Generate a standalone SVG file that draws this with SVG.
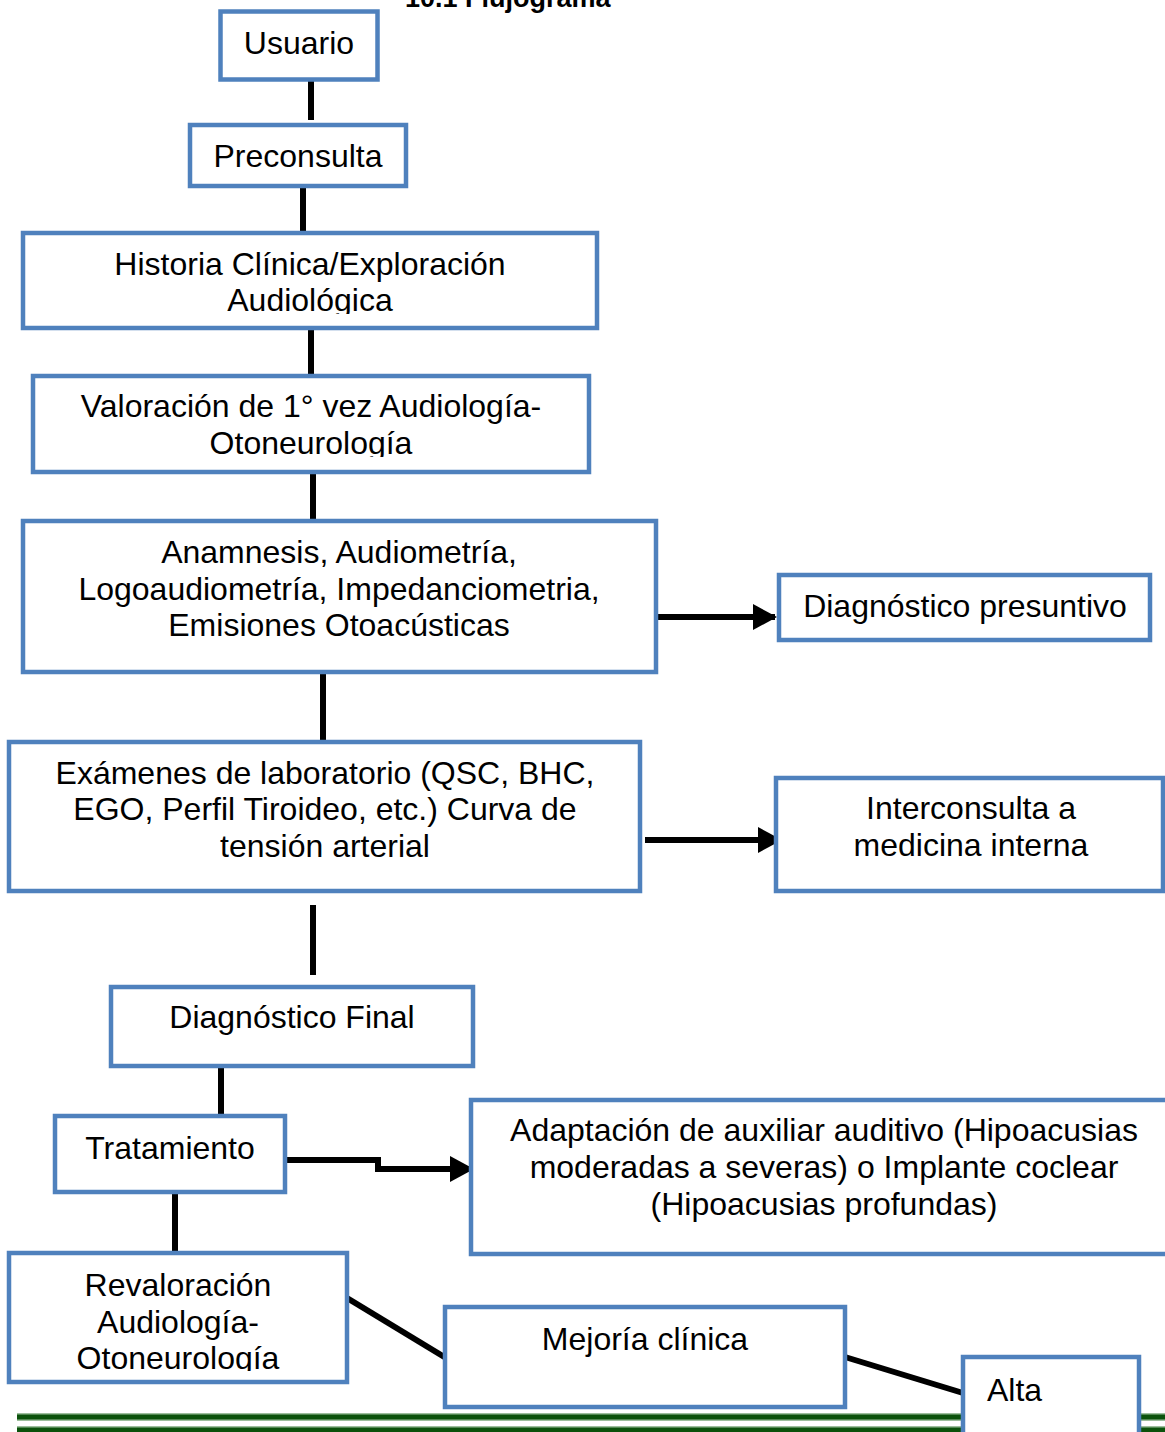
<svg xmlns="http://www.w3.org/2000/svg" width="1165" height="1432" viewBox="0 0 1165 1432">
<style>
.box{fill:#fff;stroke:#4F81BD;stroke-width:4.5}
.t{font-family:"Liberation Sans",Arial,sans-serif;font-size:32px;fill:#000;text-anchor:middle}
.c{stroke:#000;stroke-width:6;fill:none}
.title{font-family:"Liberation Sans",Arial,sans-serif;font-size:27px;font-weight:bold;fill:#000}
</style>
<defs>
<marker id="ah" markerUnits="userSpaceOnUse" markerWidth="24" markerHeight="26" refX="22" refY="13" orient="auto">
<polygon points="0,0 24,13 0,26" fill="#000"/>
</marker>
<clipPath id="clipH"><rect x="25" y="235" width="570" height="79"/></clipPath>
<clipPath id="clipV"><rect x="35" y="378" width="552" height="79"/></clipPath>
<clipPath id="clipR"><rect x="11" y="1255" width="334" height="116"/></clipPath>
</defs>
<rect width="1165" height="1432" fill="#fff"/>
<text class="title" x="405" y="7">10.1 Flujograma</text>

<g id="connectors">
<line class="c" x1="311" y1="76" x2="311" y2="120"/>
<line class="c" x1="303" y1="186" x2="303" y2="233"/>
<line class="c" x1="311" y1="328" x2="311" y2="376"/>
<line class="c" x1="313" y1="472" x2="313" y2="521"/>
<line class="c" x1="658" y1="617" x2="775" y2="617" marker-end="url(#ah)"/>
<line class="c" x1="323" y1="668" x2="323" y2="741"/>
<line class="c" x1="645" y1="840" x2="780" y2="840" marker-end="url(#ah)"/>
<line class="c" x1="313" y1="905" x2="313" y2="975"/>
<line class="c" x1="221" y1="1066" x2="221" y2="1116"/>
<polyline class="c" points="285,1160 378,1160 378,1169 472,1169" marker-end="url(#ah)"/>
<line class="c" x1="175" y1="1192" x2="175" y2="1253"/>
<line class="c" x1="347" y1="1298" x2="446" y2="1358"/>
<line class="c" x1="845" y1="1357" x2="963" y2="1393"/>
</g>

<g id="usuario"><rect class="box" x="220.5" y="11.5" width="157" height="68"/><text class="t" x="299" y="54">Usuario</text></g>
<g id="preconsulta"><rect class="box" x="190" y="125" width="216" height="61"/><text class="t" x="298" y="167">Preconsulta</text></g>
<g id="historia"><rect class="box" x="23" y="233" width="574" height="95"/>
<g clip-path="url(#clipH)"><text class="t" x="310" y="275">Historia Clínica/Exploración</text><text class="t" x="310" y="311">Audiológica</text></g></g>
<g id="valoracion"><rect class="box" x="33" y="376" width="556" height="96"/>
<g clip-path="url(#clipV)"><text class="t" x="311" y="417">Valoración de 1° vez Audiología-</text><text class="t" x="311" y="454">Otoneurología</text></g></g>
<g id="anamnesis"><rect class="box" x="23" y="521" width="633" height="151"/>
<text class="t" x="339" y="563">Anamnesis, Audiometría,</text><text class="t" x="339" y="600">Logoaudiometría, Impedanciometria,</text><text class="t" x="339" y="636">Emisiones Otoacústicas</text></g>
<g id="diag-presuntivo"><rect class="box" x="779" y="575" width="371" height="65"/><text class="t" x="965" y="617">Diagnóstico presuntivo</text></g>
<g id="examenes"><rect class="box" x="9" y="742" width="631" height="149"/>
<text class="t" x="325" y="784">Exámenes de laboratorio (QSC, BHC,</text><text class="t" x="325" y="820">EGO, Perfil Tiroideo, etc.) Curva de</text><text class="t" x="325" y="857">tensión arterial</text></g>
<g id="interconsulta"><rect class="box" x="776" y="778" width="387" height="113"/>
<text class="t" x="971" y="819">Interconsulta a</text><text class="t" x="971" y="856">medicina interna</text></g>
<g id="diag-final"><rect class="box" x="111" y="987" width="362" height="79"/><text class="t" x="292" y="1028">Diagnóstico Final</text></g>
<g id="tratamiento"><rect class="box" x="55" y="1116" width="230" height="76"/><text class="t" x="170" y="1159">Tratamiento</text></g>
<g id="adaptacion"><rect class="box" x="471" y="1100" width="710" height="154"/>
<text class="t" x="824" y="1141">Adaptación de auxiliar auditivo (Hipoacusias</text><text class="t" x="824" y="1178">moderadas a severas) o Implante coclear</text><text class="t" x="824" y="1215">(Hipoacusias profundas)</text></g>
<g id="revaloracion"><rect class="box" x="9" y="1253" width="338" height="129"/>
<g clip-path="url(#clipR)"><text class="t" x="178" y="1296">Revaloración</text><text class="t" x="178" y="1333">Audiología-</text><text class="t" x="178" y="1369">Otoneurología</text></g></g>
<g id="mejoria"><rect class="box" x="445" y="1307" width="400" height="100"/><text class="t" x="645" y="1350">Mejoría clínica</text></g>

<g id="footer-lines">
<rect x="17" y="1413" width="1150" height="8" fill="#9DBF9D"/>
<rect x="17" y="1414.5" width="1150" height="5" fill="#0B520B"/>
<rect x="17" y="1426" width="1150" height="8" fill="#9DBF9D"/>
<rect x="17" y="1427.5" width="1150" height="5" fill="#0B520B"/>
</g>

<g id="alta"><rect class="box" x="963" y="1357" width="176" height="90"/><text class="t" x="987" y="1401" style="text-anchor:start">Alta</text></g>
</svg>
